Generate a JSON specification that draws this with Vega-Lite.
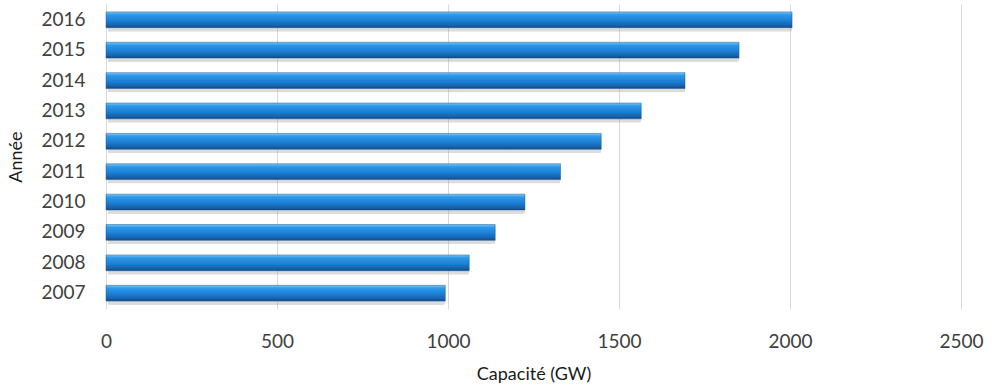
{
  "$schema": "https://vega.github.io/schema/vega-lite/v6.json",
  "width": 855,
  "height": 305,
  "autosize": {"type": "none"},
  "padding": {"left": 106, "top": 4, "right": 31, "bottom": 81},
  "background": "white",
  "config": {
    "view": {"stroke": null},
    "font": "Lato",
    "axis": {"labelFont": "Lato", "titleFont": "Lato", "labelColor": "#404040", "titleColor": "#1a1a1a", "labelFontSize": 19, "titleFontSize": 18, "titleFontWeight": "normal"}
  },
  "data": {"values": [
    {"annee": "2007", "capacite": 992},
    {"annee": "2008", "capacite": 1062},
    {"annee": "2009", "capacite": 1138},
    {"annee": "2010", "capacite": 1225},
    {"annee": "2011", "capacite": 1329},
    {"annee": "2012", "capacite": 1448},
    {"annee": "2013", "capacite": 1565},
    {"annee": "2014", "capacite": 1693},
    {"annee": "2015", "capacite": 1851},
    {"annee": "2016", "capacite": 2006}
  ]},
  "encoding": {
    "y": {
      "field": "annee", "type": "nominal", "sort": "descending",
      "scale": {"paddingInner": 0.48, "paddingOuter": 0.26},
      "axis": {"title": "Année", "domain": false, "ticks": false, "labelPadding": 21, "titlePadding": 15, "grid": false}
    },
    "x": {
      "field": "capacite", "type": "quantitative",
      "scale": {"domain": [0, 2500], "nice": false},
      "axis": {"title": "Capacité (GW)", "format": "d", "labelFlush": false, "values": [0, 500, 1000, 1500, 2000, 2500], "domain": false, "ticks": false, "grid": true, "gridColor": "#d9d9d9", "gridWidth": 1, "labelPadding": 23, "titlePadding": 14}
    }
  },
  "layer": [
    {
      "mark": {"type": "bar", "color": "#9a9a9a", "opacity": 0.35, "yOffset": 4, "xOffset": 2, "cornerRadius": 2}
    },
    {
      "mark": {
        "type": "bar",
        "stroke": "#1a5a98",
        "strokeWidth": 0.5,
        "fill": {
          "gradient": "linear", "x1": 0, "y1": 0, "x2": 0, "y2": 1,
          "stops": [
            {"offset": 0, "color": "#7cc6f7"},
            {"offset": 0.18, "color": "#2f98e8"},
            {"offset": 0.55, "color": "#1b80d6"},
            {"offset": 0.85, "color": "#1762ab"},
            {"offset": 1, "color": "#134a82"}
          ]
        }
      }
    }
  ]
}
